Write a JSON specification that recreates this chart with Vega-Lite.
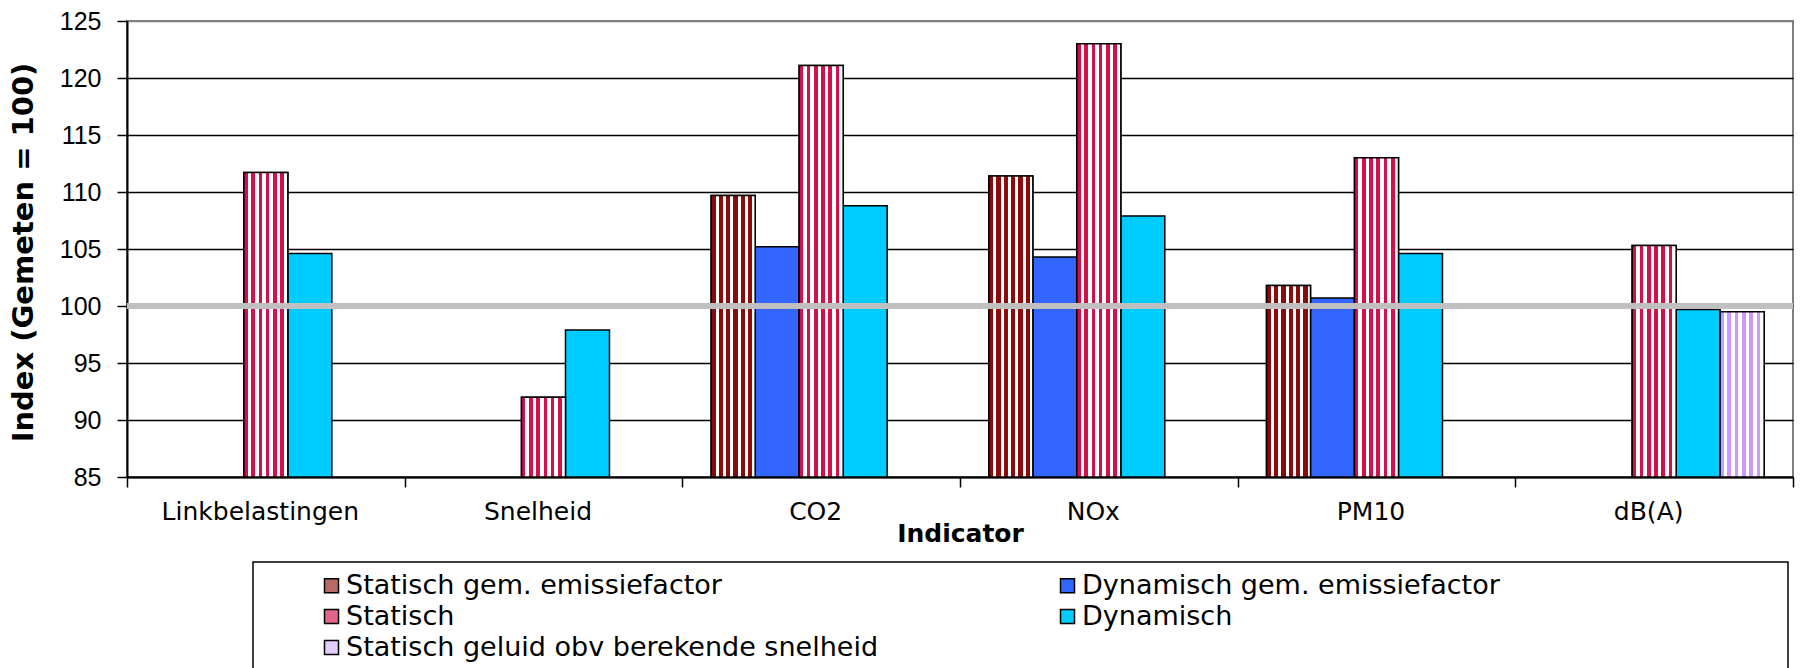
{
  "$schema": "https://vega.github.io/schema/vega-lite/v6.json",
  "autosize": {"type": "none"},
  "width": 1666,
  "height": 456,
  "padding": {"left": 127, "top": 21, "right": 19, "bottom": 191},
  "background": "white",
  "title": {
    "text": "Totaal van snelweg, totale spitsperiode",
    "font": "DejaVu Sans",
    "fontSize": 27,
    "fontWeight": "bold",
    "color": "black",
    "anchor": "middle",
    "dx": 52,
    "baseline": "alphabetic",
    "offset": 2
  },
  "config": {
    "font": "DejaVu Sans",
    "view": {"stroke": "#808080", "strokeWidth": 2},
    "legend": {
      "orient": "none",
      "legendX": 126,
      "legendY": 541,
      "columns": 2,
      "gridAlign": "each",
      "strokeColor": "black",
      "strokeWidth": 1.5,
      "padding": 10,
      "fillColor": "white",
      "labelFont": "DejaVu Sans",
      "labelFontSize": 27,
      "labelColor": "black",
      "labelLimit": 0,
      "labelOffset": 1,
      "symbolType": "square",
      "symbolSize": 196,
      "symbolStrokeColor": "black",
      "symbolStrokeWidth": 1.5,
      "symbolOffset": 55,
      "rowPadding": 3,
      "columnPadding": 120
    }
  },
  "data": {
    "values": [
      {"Indicator": "Linkbelastingen", "Serie": "Statisch", "Index": 111.7},
      {"Indicator": "Linkbelastingen", "Serie": "Dynamisch", "Index": 104.6},
      {"Indicator": "Snelheid", "Serie": "Statisch", "Index": 92.0},
      {"Indicator": "Snelheid", "Serie": "Dynamisch", "Index": 97.9},
      {"Indicator": "CO2", "Serie": "Statisch gem. emissiefactor", "Index": 109.7},
      {"Indicator": "CO2", "Serie": "Dynamisch gem. emissiefactor", "Index": 105.2},
      {"Indicator": "CO2", "Serie": "Statisch", "Index": 121.1},
      {"Indicator": "CO2", "Serie": "Dynamisch", "Index": 108.8},
      {"Indicator": "NOx", "Serie": "Statisch gem. emissiefactor", "Index": 111.4},
      {"Indicator": "NOx", "Serie": "Dynamisch gem. emissiefactor", "Index": 104.3},
      {"Indicator": "NOx", "Serie": "Statisch", "Index": 123.0},
      {"Indicator": "NOx", "Serie": "Dynamisch", "Index": 107.9},
      {"Indicator": "PM10", "Serie": "Statisch gem. emissiefactor", "Index": 101.8},
      {"Indicator": "PM10", "Serie": "Dynamisch gem. emissiefactor", "Index": 100.7},
      {"Indicator": "PM10", "Serie": "Statisch", "Index": 113.0},
      {"Indicator": "PM10", "Serie": "Dynamisch", "Index": 104.6},
      {"Indicator": "dB(A)", "Serie": "Statisch", "Index": 105.3},
      {"Indicator": "dB(A)", "Serie": "Dynamisch", "Index": 99.7},
      {"Indicator": "dB(A)", "Serie": "Statisch geluid obv berekende snelheid", "Index": 99.5}
    ]
  },
  "layer": [
    {
      "encoding": {
        "x": {
          "field": "Indicator",
          "type": "nominal",
          "sort": ["Linkbelastingen", "Snelheid", "CO2", "NOx", "PM10", "dB(A)"],
          "scale": {"paddingInner": 0, "paddingOuter": 0},
          "axis": {
            "title": "Indicator",
            "titleFont": "DejaVu Sans",
            "titleFontSize": 25,
            "titleFontWeight": "bold",
            "titleColor": "black",
            "titleBaseline": "top",
            "titleY": 44,
            "labelAngle": 0,
            "labelFont": "DejaVu Sans",
            "labelFontSize": 25,
            "labelColor": "black",
            "labelPadding": 12,
            "labelOffset": -6,
            "labelLimit": 400,
            "tickBand": "extent",
            "tickSize": 10,
            "tickColor": "black",
            "tickWidth": 1.5,
            "domainColor": "black",
            "domainWidth": 2,
            "grid": false
          }
        },
        "xOffset": {
          "field": "Serie",
          "type": "nominal",
          "scale": {
            "domain": ["Statisch gem. emissiefactor", "Dynamisch gem. emissiefactor", "Statisch", "Dynamisch", "Statisch geluid obv berekende snelheid"],
            "paddingInner": 0,
            "paddingOuter": 0.656
          }
        },
        "y": {
          "field": "Index",
          "type": "quantitative",
          "scale": {"domain": [85, 125], "nice": false, "zero": false},
          "axis": {
            "title": "Index (Gemeten = 100)",
            "titleFont": "DejaVu Sans",
            "titleFontSize": 29,
            "titleFontWeight": "bold",
            "titleColor": "black",
            "titleX": -104,
            "titleY": 231,
            "titleAlign": "center",
            "titleBaseline": "middle",
            "values": [85, 90, 95, 100, 105, 110, 115, 120, 125],
            "labelFont": "Liberation Sans",
            "labelFontSize": 25,
            "labelColor": "black",
            "labelPadding": 16,
            "tickSize": 10,
            "tickColor": "black",
            "tickWidth": 1.5,
            "domainColor": "black",
            "domainWidth": 2,
            "grid": true,
            "gridColor": {"condition": {"test": "datum.value == 125", "value": "#808080"}, "value": "black"},
            "gridWidth": 1.5
          }
        },
        "y2": {"datum": 85}
      },
      "layer": [
        {
          "mark": {"type": "bar", "stroke": "black", "strokeWidth": 1.5},
          "encoding": {
            "color": {
              "field": "Serie",
              "type": "nominal",
              "scale": {
                "domain": ["Statisch gem. emissiefactor", "Dynamisch gem. emissiefactor", "Statisch", "Dynamisch", "Statisch geluid obv berekende snelheid"],
                "range": ["#b86a6a", "#3366ff", "#e2668a", "#00ccff", "#e3cdfb"]
              },
              "legend": {
                "title": null,
                "values": ["Statisch gem. emissiefactor", "Statisch", "Statisch geluid obv berekende snelheid", "Dynamisch gem. emissiefactor", "Dynamisch"],
                "labelExpr": "datum.label == 'Dynamisch gem. emissiefactor' ? datum.label + '\u00a0\u00a0\u00a0\u00a0\u00a0\u00a0\u00a0\u00a0\u00a0\u00a0\u00a0\u00a0\u00a0\u00a0\u00a0\u00a0\u00a0\u00a0\u00a0\u00a0\u00a0\u00a0\u00a0\u00a0\u00a0\u00a0\u00a0\u00a0\u00a0\u00a0\u2800' : datum.label"
              }
            }
          }
        },
        {
          "transform": [{"filter": "datum.Serie == 'Statisch gem. emissiefactor'"}],
          "mark": {
            "type": "bar",
            "stroke": "black",
            "strokeWidth": 1.5,
            "fill": {
              "gradient": "linear", "x1": 0, "y1": 0, "x2": 1, "y2": 0,
              "stops": [
                {"offset": 0, "color": "#8b0a0a"}, {"offset": 0.1, "color": "#8b0a0a"}, {"offset": 0.1, "color": "#ffffff"}, {"offset": 0.1667, "color": "#ffffff"},
                {"offset": 0.1667, "color": "#8b0a0a"}, {"offset": 0.2667, "color": "#8b0a0a"}, {"offset": 0.2667, "color": "#ffffff"}, {"offset": 0.3333, "color": "#ffffff"},
                {"offset": 0.3333, "color": "#8b0a0a"}, {"offset": 0.4333, "color": "#8b0a0a"}, {"offset": 0.4333, "color": "#ffffff"}, {"offset": 0.5, "color": "#ffffff"},
                {"offset": 0.5, "color": "#8b0a0a"}, {"offset": 0.6, "color": "#8b0a0a"}, {"offset": 0.6, "color": "#ffffff"}, {"offset": 0.6667, "color": "#ffffff"},
                {"offset": 0.6667, "color": "#8b0a0a"}, {"offset": 0.7667, "color": "#8b0a0a"}, {"offset": 0.7667, "color": "#ffffff"}, {"offset": 0.8333, "color": "#ffffff"},
                {"offset": 0.8333, "color": "#8b0a0a"}, {"offset": 0.9333, "color": "#8b0a0a"}, {"offset": 0.9333, "color": "#ffffff"}, {"offset": 1, "color": "#ffffff"}
              ]
            }
          }
        },
        {
          "transform": [{"filter": "datum.Serie == 'Statisch'"}],
          "mark": {
            "type": "bar",
            "stroke": "black",
            "strokeWidth": 1.5,
            "fill": {
              "gradient": "linear", "x1": 0, "y1": 0, "x2": 1, "y2": 0,
              "stops": [
                {"offset": 0, "color": "#d2104a"}, {"offset": 0.0833, "color": "#d2104a"}, {"offset": 0.0833, "color": "#ffffff"}, {"offset": 0.1667, "color": "#ffffff"},
                {"offset": 0.1667, "color": "#d2104a"}, {"offset": 0.25, "color": "#d2104a"}, {"offset": 0.25, "color": "#ffffff"}, {"offset": 0.3333, "color": "#ffffff"},
                {"offset": 0.3333, "color": "#d2104a"}, {"offset": 0.4167, "color": "#d2104a"}, {"offset": 0.4167, "color": "#ffffff"}, {"offset": 0.5, "color": "#ffffff"},
                {"offset": 0.5, "color": "#d2104a"}, {"offset": 0.5833, "color": "#d2104a"}, {"offset": 0.5833, "color": "#ffffff"}, {"offset": 0.6667, "color": "#ffffff"},
                {"offset": 0.6667, "color": "#d2104a"}, {"offset": 0.75, "color": "#d2104a"}, {"offset": 0.75, "color": "#ffffff"}, {"offset": 0.8333, "color": "#ffffff"},
                {"offset": 0.8333, "color": "#d2104a"}, {"offset": 0.9167, "color": "#d2104a"}, {"offset": 0.9167, "color": "#ffffff"}, {"offset": 1, "color": "#ffffff"}
              ]
            }
          }
        },
        {
          "transform": [{"filter": "datum.Serie == 'Statisch geluid obv berekende snelheid'"}],
          "mark": {
            "type": "bar",
            "stroke": "black",
            "strokeWidth": 1.5,
            "fill": {
              "gradient": "linear", "x1": 0, "y1": 0, "x2": 1, "y2": 0,
              "stops": [
                {"offset": 0, "color": "#cc99ff"}, {"offset": 0.0833, "color": "#cc99ff"}, {"offset": 0.0833, "color": "#ffffff"}, {"offset": 0.1667, "color": "#ffffff"},
                {"offset": 0.1667, "color": "#cc99ff"}, {"offset": 0.25, "color": "#cc99ff"}, {"offset": 0.25, "color": "#ffffff"}, {"offset": 0.3333, "color": "#ffffff"},
                {"offset": 0.3333, "color": "#cc99ff"}, {"offset": 0.4167, "color": "#cc99ff"}, {"offset": 0.4167, "color": "#ffffff"}, {"offset": 0.5, "color": "#ffffff"},
                {"offset": 0.5, "color": "#cc99ff"}, {"offset": 0.5833, "color": "#cc99ff"}, {"offset": 0.5833, "color": "#ffffff"}, {"offset": 0.6667, "color": "#ffffff"},
                {"offset": 0.6667, "color": "#cc99ff"}, {"offset": 0.75, "color": "#cc99ff"}, {"offset": 0.75, "color": "#ffffff"}, {"offset": 0.8333, "color": "#ffffff"},
                {"offset": 0.8333, "color": "#cc99ff"}, {"offset": 0.9167, "color": "#cc99ff"}, {"offset": 0.9167, "color": "#ffffff"}, {"offset": 1, "color": "#ffffff"}
              ]
            }
          }
        }
      ]
    },
    {
      "mark": {"type": "rule", "color": "#c0c0c0", "strokeWidth": 5},
      "encoding": {"y": {"datum": 100}}
    }
  ]
}
